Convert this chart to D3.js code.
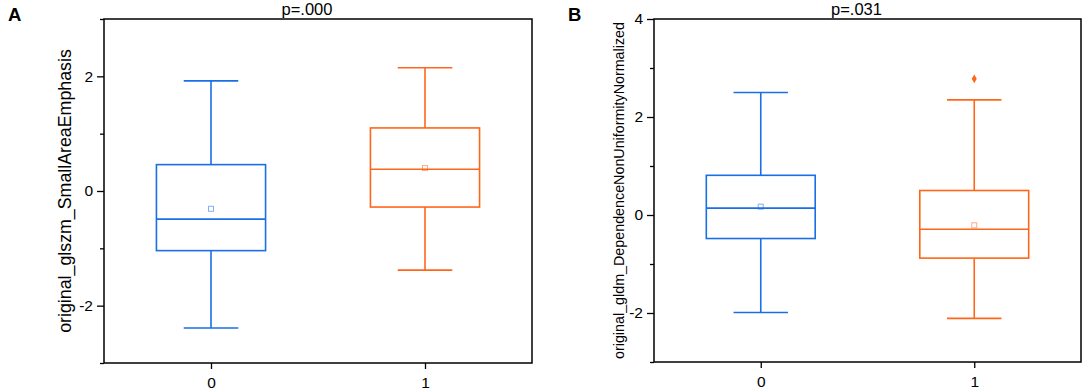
<!DOCTYPE html>
<html><head><meta charset="utf-8">
<script src="https://cdn.jsdelivr.net/npm/d3@7"></script>
<style>body{margin:0;background:#fff}svg{display:block;font-family:"Liberation Sans",Arial,sans-serif}</style>
</head><body><svg id="c" width="1084" height="392"></svg>
<script>
// ---- data ----
const groups = ["0", "1"];
// [whiskerLow, Q1, median, Q3, whiskerHigh]
const statsA = [[-2.39, -1.04, -0.49, 0.46, 1.92], [-1.38, -0.28, 0.38, 1.10, 2.15]];
const meansA = [-0.31, 0.40];
const outliersA = [[], []];
const statsB = [[-1.99, -0.48, 0.14, 0.81, 2.50], [-2.11, -0.88, -0.29, 0.50, 2.35]];
const meansB = [0.17, -0.21];
const outliersB = [[], [2.78]];
const majorTicksA = [-2, 0, 2];
const minorTicksA = [-3, -1, 1, 3];
const majorTicksB = [-2, 0, 2, 4];
const minorTicksB = [-3, -1, 1, 3];
const colors = ["#1a6fe6", "#ff661a"];

const svg = d3.select("#c");

function panel(opt) {
  const g = svg.append("g");
  const x = d3.scaleLinear().domain([-0.5, 1.5]).range([opt.left, opt.right]);
  const y = d3.scaleLinear().domain(opt.domain).range([opt.bottom, opt.top]);
  // minor ticks
  g.append("g").attr("transform", `translate(${opt.left},0)`)
    .call(d3.axisLeft(y).tickValues(opt.minor).tickSize(4).tickFormat(""))
    .call(a => a.select(".domain").remove())
    .selectAll("line").attr("stroke", "#000").attr("stroke-width", 1.3);
  // major ticks
  const ya = g.append("g").attr("transform", `translate(${opt.left},0)`)
    .call(d3.axisLeft(y).tickValues(opt.major).tickSize(7).tickPadding(4).tickFormat(d => String(d)));
  ya.select(".domain").remove();
  ya.selectAll("line").attr("stroke", "#000").attr("stroke-width", 1.3);
  ya.selectAll("text").attr("font-size", 15.5).attr("fill", "#000")
    .attr("font-family", "'Liberation Sans',Arial,sans-serif");
  // x axis
  const xa = g.append("g").attr("transform", `translate(0,${opt.bottom})`)
    .call(d3.axisBottom(x).tickValues([0, 1]).tickSize(6).tickPadding(8).tickFormat((d, i) => groups[i]));
  xa.select(".domain").remove();
  xa.selectAll("line").attr("stroke", "#000").attr("stroke-width", 1.3);
  xa.selectAll("text").attr("font-size", 15.5).attr("fill", "#000")
    .attr("font-family", "'Liberation Sans',Arial,sans-serif");
  // frame
  g.append("rect").attr("x", opt.left).attr("y", opt.top)
    .attr("width", opt.right - opt.left).attr("height", opt.bottom - opt.top)
    .attr("fill", "none").attr("stroke", "#000").attr("stroke-width", 1.5);
  // boxes
  const bw = x(0.255) - x(0), cw = bw / 2;
  opt.stats.forEach((s, i) => {
    const cx = x(i), c = colors[i];
    const bg = g.append("g").attr("stroke", c).attr("stroke-width", 1.6).attr("fill", "none");
    bg.append("line").attr("x1", cx).attr("x2", cx).attr("y1", y(s[0])).attr("y2", y(s[1]));
    bg.append("line").attr("x1", cx).attr("x2", cx).attr("y1", y(s[3])).attr("y2", y(s[4]));
    bg.append("line").attr("x1", cx - cw).attr("x2", cx + cw).attr("y1", y(s[0])).attr("y2", y(s[0]));
    bg.append("line").attr("x1", cx - cw).attr("x2", cx + cw).attr("y1", y(s[4])).attr("y2", y(s[4]));
    bg.append("rect").attr("x", cx - bw).attr("width", 2 * bw)
      .attr("y", y(s[3])).attr("height", y(s[1]) - y(s[3]));
    bg.append("line").attr("x1", cx - bw).attr("x2", cx + bw).attr("y1", y(s[2])).attr("y2", y(s[2]));
    g.append("rect").attr("x", cx - 2.5).attr("y", y(opt.means[i]) - 2.5).attr("width", 5).attr("height", 5)
      .attr("fill", "none").attr("stroke", c).attr("stroke-width", 1).attr("opacity", 0.55);
    opt.outliers[i].forEach(v => {
      g.append("path").attr("d", d3.symbol(d3.symbolDiamond, 22)())
        .attr("transform", `translate(${cx},${y(v)})`).attr("fill", c);
    });
  });
  // title
  g.append("text").attr("x", (opt.left + opt.right) / 2 - 11).attr("y", 15)
    .attr("text-anchor", "middle").attr("font-size", 16.5).text(opt.title);
  // y label
  g.append("text").attr("transform", `translate(${opt.labelX},${(opt.top + opt.bottom) / 2}) rotate(-90)`)
    .attr("text-anchor", "middle").attr("font-size", opt.labelSize).text(opt.label);
  // panel letter
  g.append("text").attr("x", opt.letterX).attr("y", 21).attr("font-size", 18.5)
    .attr("font-weight", "bold").text(opt.letter);
}

panel({left: 104, right: 532, top: 19, bottom: 363, domain: [-3, 3],
  major: majorTicksA, minor: minorTicksA, stats: statsA, means: meansA, outliers: outliersA,
  title: "p=.000", label: "original_glszm_SmallAreaEmphasis", labelX: 71, labelSize: 17.8,
  letter: "A", letterX: 8});
panel({left: 654, right: 1081, top: 19, bottom: 362, domain: [-3, 4],
  major: majorTicksB, minor: minorTicksB, stats: statsB, means: meansB, outliers: outliersB,
  title: "p=.031", label: "original_gldm_DependenceNonUniformityNormalized", labelX: 624, labelSize: 14.3,
  letter: "B", letterX: 568});
</script></body></html>
